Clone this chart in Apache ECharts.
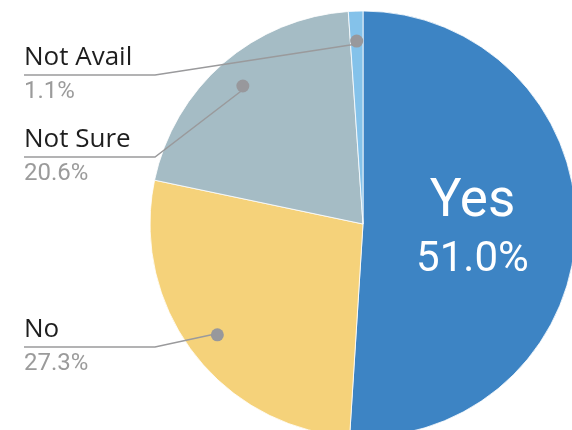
<!DOCTYPE html>
<html>
<head>
<meta charset="utf-8">
<style>
  html, body { margin: 0; padding: 0; background: #fff; }
  #main { width: 572px; height: 430px; }
</style>
<script src="https://cdn.jsdelivr.net/npm/echarts@6/dist/echarts.min.js"></script>
</head>
<body>
<div id="main"></div>
<script>
// 数据
var categories = ['Yes', 'No', 'Not Sure', 'Not Avail'];
var shares = [51.0, 27.3, 20.6, 1.1];
var colors = ['#3d84c4', '#f5d27a', '#a5bcc5', '#84c2ea'];

// 标签线的纵向位置（Yes 在饼内，不用）
var labelLineY = [null, 347, 157, 75];

var pieCenter = [363, 224];
var pieRadius = 213;

var dom = document.getElementById('main');
var myChart = echarts.init(dom);

var pieData = categories.map(function (name, i) {
    return { name: name, value: shares[i], itemStyle: { color: colors[i] } };
});

// 透明的饼，只用来放外部标签
var labelData = categories.map(function (name, i) {
    return {
        name: name,
        value: shares[i],
        label: { show: i > 0 },
        labelLine: { show: i > 0 }
    };
});

// 透明的环，只用来放灰色圆点
var dotData = categories.map(function (name, i) {
    return { name: name, value: shares[i], label: { show: i > 0 } };
});

myChart.setOption({
    animation: false,
    series: [
        {
            type: 'pie',
            center: pieCenter,
            radius: pieRadius,
            startAngle: 90,
            silent: true,
            data: pieData,
            itemStyle: {
                borderColor: '#ffffff',
                borderWidth: 0.8
            },
            label: {
                show: true,
                position: 'inside',
                formatter: function (p) {
                    if (p.dataIndex !== 0) return '';
                    return '{n|' + p.name + '}\n{v|' + p.value.toFixed(1) + '%}';
                },
                rich: {
                    n: { fontFamily: 'Roboto', fontSize: 53, color: '#ffffff', lineHeight: 66 },
                    v: { fontFamily: 'Roboto', fontSize: 42, color: '#ffffff', lineHeight: 50 }
                }
            },
            labelLine: { show: false }
        },
        {
            type: 'pie',
            z: 3,
            center: pieCenter,
            radius: 180,
            startAngle: 90,
            silent: true,
            avoidLabelOverlap: false,
            itemStyle: { color: 'rgba(0,0,0,0)' },
            data: labelData,
            label: {
                position: 'outside',
                formatter: function (p) {
                    return '{n|' + p.name + '}\n{v|' + p.value.toFixed(1) + '%}';
                },
                rich: {
                    n: { fontFamily: 'Open Sans', fontSize: 26, color: '#1e1e1e', lineHeight: 34 },
                    v: { fontFamily: 'Roboto', fontSize: 24, color: '#9b9b9b', lineHeight: 34 }
                }
            },
            labelLine: {
                length: 10,
                length2: 10,
                lineStyle: { color: '#9a9a9c', width: 1.5 }
            },
            labelLayout: function (params) {
                var y = labelLineY[params.dataIndex];
                if (y == null) return {};
                var start = params.labelLinePoints[0];
                return {
                    x: 24,
                    y: y - 34,
                    align: 'left',
                    verticalAlign: 'top',
                    labelLinePoints: [start, [155, y], [24, y]]
                };
            }
        },
        {
            type: 'pie',
            z: 4,
            center: pieCenter,
            radius: [172, 188],
            startAngle: 90,
            silent: true,
            itemStyle: { color: 'rgba(0,0,0,0)' },
            data: dotData,
            label: {
                position: 'inside',
                formatter: '{dot|}',
                rich: {
                    dot: { width: 13, height: 13, borderRadius: 6.5, backgroundColor: '#98989c' }
                }
            },
            labelLine: { show: false }
        }
    ]
});

window.addEventListener('resize', function () {
    myChart.resize();
});
</script>
</body>
</html>
